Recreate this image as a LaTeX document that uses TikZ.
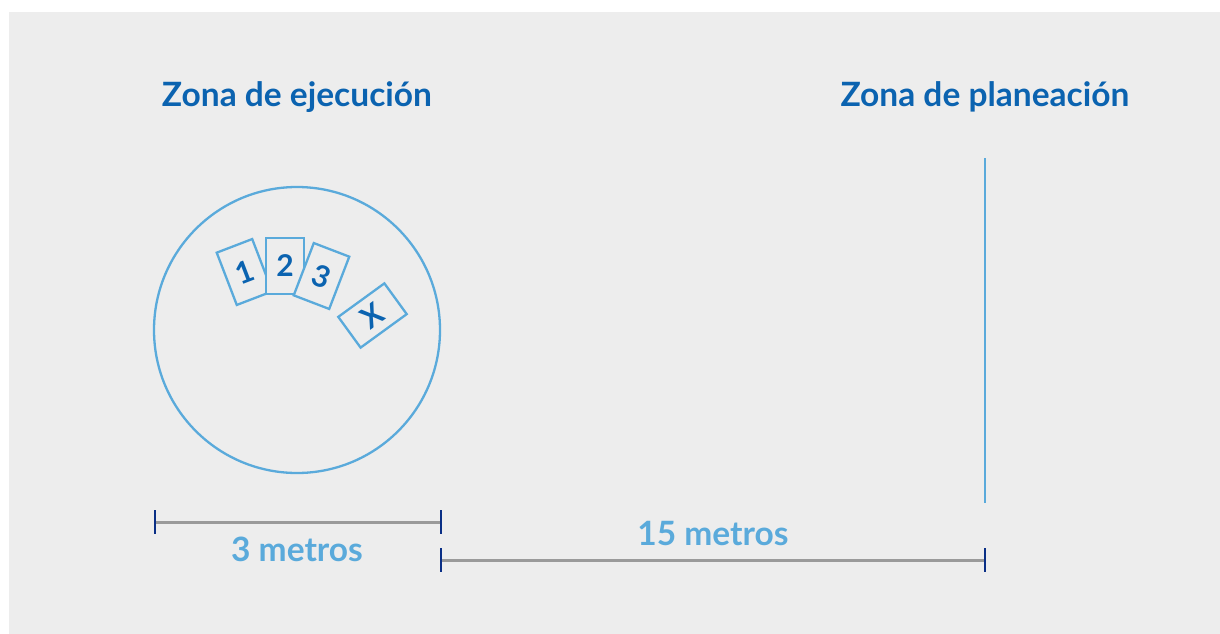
\documentclass[tikz,border=0pt]{standalone}
\usepackage{fontspec}
\setmainfont{Lato}
\definecolor{zonablue}{HTML}{0B63B0}
\definecolor{lightblue}{HTML}{5AAADB}
\definecolor{tickblue}{HTML}{0A2F86}
\definecolor{bggray}{HTML}{EDEDED}
\definecolor{rulegray}{HTML}{9A9A9A}
\begin{document}
\begin{tikzpicture}[x=1pt, y=-1pt,
    title/.style = {text=zonablue, font=\fontsize{33.5}{38}\selectfont\bfseries},
    measure/.style = {text=lightblue, font=\fontsize{33.5}{38}\selectfont\bfseries},
    card/.style = {draw=lightblue, line width=2.3pt, fill=bggray, minimum width=38pt, minimum height=56pt, inner sep=0pt, text=zonablue, font=\fontsize{30}{32}\selectfont\bfseries},
    rule/.style = {draw=rulegray, line width=3pt},
    tick/.style = {draw=tickblue, line width=2.3pt}]
    \useasboundingbox (0,0) rectangle (1220,634);
    \fill[bggray] (9,12) rectangle (1220,634);
    % zonas
    \node[title] (ejecucion) at (297,97) {Zona de ejecución};
    \node[title] (planeacion) at (985,97) {Zona de planeación};
    \draw[lightblue, line width=2.3pt] (297,330) circle (143);
    \coordinate (lineatop) at (985,158);
    \coordinate (lineabot) at (985,503);
    \draw[lightblue, line width=1.7pt] (lineatop) -- (lineabot);
    % tarjetas
    \node[card, rotate=21] (c1) at (244.5,272) {1};
    \node[card] (c2) at (285,266) {2};
    \node[card, rotate=-21] (c3) at (321.5,276) {3};
    \node[card, rotate=36, minimum width=57pt, minimum height=38pt] (cx) at (372.5,315.5) {X};
    % medidas
    \coordinate (a1) at (155,522);
    \coordinate (a2) at (441,522);
    \coordinate (b1) at (441,560);
    \coordinate (b2) at (985,560);
    \draw[rule] (a1) -- (a2);
    \draw[rule] (b1) -- (b2);
    \foreach \p in {a1,a2,b1,b2}
        \draw[tick] ([yshift=12pt]\p) -- ([yshift=-12pt]\p);
    \node[measure] (tres) at (297,549) {3 metros};
    \node[measure] (quince) at (713,533) {15 metros};
\end{tikzpicture}
\end{document}
